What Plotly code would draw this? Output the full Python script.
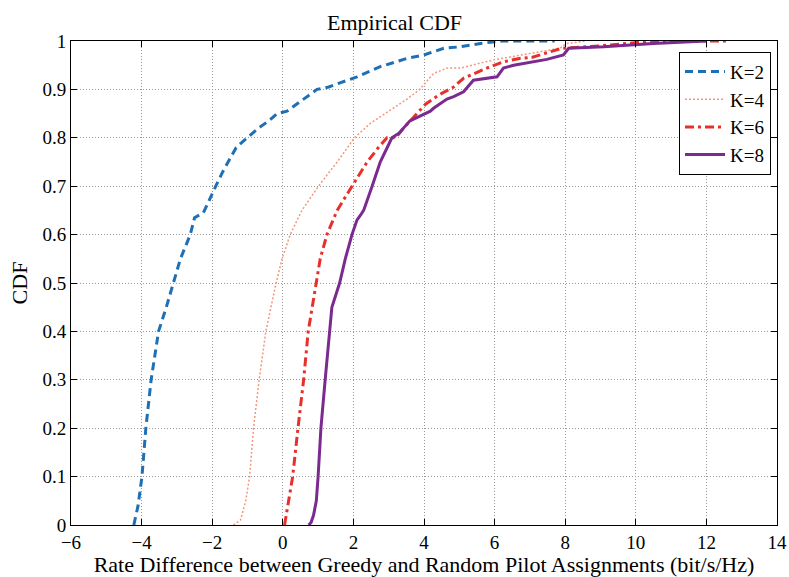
import plotly.graph_objects as go

# ---- data ----
k2_x = [-4.22, -4.1, -3.99, -3.88, -3.73, -3.52, -3.3, -3.10, -2.9, -2.62, -2.5, -2.25, -2.1, -1.9,
        -1.7, -1.54, -1.32, -1.01, -0.69, -0.4, -0.16, 0.12, 0.54, 0.97, 1.3, 1.63, 2.10, 2.76,
        3.52, 3.99, 4.56, 5.03, 5.6, 6.2, 7.7]
k2_y = [0, 0.04, 0.1, 0.2, 0.3, 0.4, 0.45, 0.5, 0.55, 0.6, 0.635, 0.645, 0.67, 0.7,
        0.73, 0.75, 0.78, 0.8, 0.82, 0.835, 0.85, 0.855, 0.878, 0.9, 0.905, 0.913, 0.926, 0.947,
        0.964, 0.971, 0.985, 0.988, 0.995, 1.0, 1.0]

k4_x = [-1.4, -1.2, -1.05, -0.94, -0.83, -0.67, -0.48, -0.19, -0.02, 0.21, 0.54, 1.01, 1.54,
        2.03, 2.48, 2.90, 3.52, 3.88, 4.18, 4.27, 4.65, 5.03, 5.97, 7.0, 7.85, 8.05, 8.6]
k4_y = [0, 0.01, 0.05, 0.1, 0.2, 0.3, 0.4, 0.5, 0.55, 0.6, 0.65, 0.7, 0.75,
        0.8, 0.83, 0.85, 0.88, 0.9, 0.926, 0.933, 0.944, 0.944, 0.961, 0.975, 0.985, 0.995, 1.0]

k6_x = [0.05, 0.15, 0.28, 0.43, 0.59, 0.72, 0.95, 1.06, 1.25, 1.54, 1.96, 2.39, 2.71, 2.95, 3.2,
        3.42, 3.80, 4.05, 4.46, 4.84, 5.12, 5.78, 6.25, 6.7, 7.05, 7.9, 9.0, 9.9, 10.5, 12.58]
k6_y = [0, 0.04, 0.1, 0.2, 0.3, 0.4, 0.5, 0.55, 0.6, 0.65, 0.7, 0.75, 0.78, 0.8, 0.8,
        0.82, 0.85, 0.87, 0.89, 0.905, 0.923, 0.944, 0.957, 0.964, 0.966, 0.985, 0.99, 0.9955, 1.0, 1.0]

k8_x = [0.73, 0.80, 0.87, 0.95, 1.00, 1.08, 1.20, 1.32, 1.39, 1.61, 1.77, 1.96, 2.10, 2.2, 2.29,
        2.53, 2.76, 3.09, 3.3, 3.6, 3.9, 4.18, 4.27, 4.65, 4.84, 5.12, 5.4, 5.78, 6.07, 6.25,
        6.54, 7.48, 7.95, 8.1, 9.09, 10.5, 11.9, 12.0]
k8_y = [0, 0.005, 0.02, 0.05, 0.1, 0.2, 0.3, 0.4, 0.45, 0.5, 0.55, 0.6, 0.63, 0.64, 0.65,
        0.7, 0.75, 0.8, 0.81, 0.835, 0.845, 0.855, 0.861, 0.88, 0.885, 0.895, 0.919, 0.923, 0.926, 0.944,
        0.950, 0.962, 0.971, 0.985, 0.988, 0.995, 1.0, 1.0]

series = [
    ("K=2", k2_x, k2_y, "#1f6fb5", 3, "8px,5px"),
    ("K=4", k4_x, k4_y, "#f4977a", 1.5, "2px,2px"),
    ("K=6", k6_x, k6_y, "#e8302a", 3, "9px,4px,3px,4px"),
    ("K=8", k8_x, k8_y, "#7b2a90", 3, "solid"),
]

FONT = "Liberation Serif, Times New Roman, serif"

fig = go.Figure()
for name, xs, ys, color, w, dash in series:
    fig.add_trace(go.Scatter(x=xs, y=ys, mode="lines", name=name,
                             line=dict(color=color, width=w, dash=dash)))

axis_common = dict(
    showline=True, linecolor="black", linewidth=1, mirror="allticks",
    ticks="inside", ticklen=6, tickcolor="black", automargin=False,
    showgrid=True, gridcolor="#999999", griddash="1px,2px", gridwidth=1,
    zeroline=False, tickfont=dict(family=FONT, size=19, color="black"),
)

fig.update_layout(
    width=789, height=577,
    margin=dict(l=71, r=12, t=41, b=52),
    paper_bgcolor="white", plot_bgcolor="white",
    font=dict(family=FONT, size=19, color="black"),
    title=dict(text="Empirical CDF", x=0.5, xanchor="center", y=1 - 22 / 577,
               yanchor="middle", font=dict(family=FONT, size=22, color="black"),
               automargin=False),
    xaxis=dict(range=[-6, 14], dtick=2, tick0=0,
               title=dict(text="Rate Difference between Greedy and Random Pilot Assignments (bit/s/Hz)",
                          standoff=2, font=dict(family=FONT, size=22)),
               **axis_common),
    yaxis=dict(range=[0, 1], dtick=0.1, tick0=0,
               title=dict(text="CDF", standoff=8, font=dict(family=FONT, size=22)),
               **axis_common),
    legend=dict(x=0.9915, y=0.978, xanchor="right", yanchor="top",
                bordercolor="black", borderwidth=1, bgcolor="white",
                font=dict(family=FONT, size=19), tracegroupgap=0, itemwidth=40),
    showlegend=True,
)

fig.write_html("out.html")
